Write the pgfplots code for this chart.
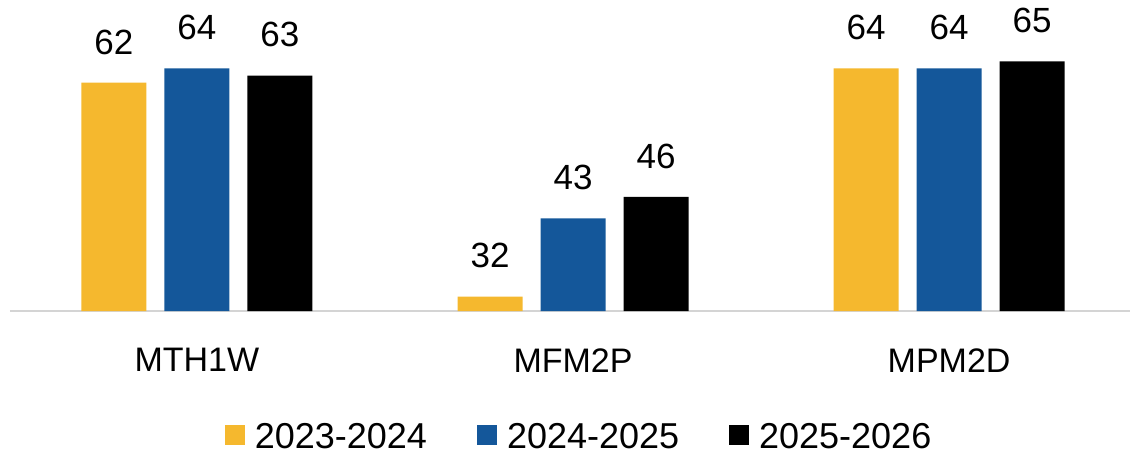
\documentclass[border=0pt]{standalone}
\usepackage{pgfplots}
\pgfplotsset{compat=1.18}
\usepackage{fontspec}
\setmainfont{Liberation Sans}
\definecolor{cyellow}{HTML}{F5B82E}
\definecolor{cblue}{HTML}{14579A}
\definecolor{baseln}{HTML}{D4D4D4}

\begin{document}
\begin{tikzpicture}
\begin{axis}[
  scale only axis, width=560pt, height=155.5pt,
  xmin=-0.497, xmax=2.481, ymin=30, ymax=73.6,
  ybar, bar width=32.5pt,
  axis y line=none, axis x line=bottom,
  x axis line style={-, draw=baseln, line width=1pt},
  xtick={0,1,2}, xticklabels={MTH1W,MFM2P,MPM2D},
  major tick length=0pt,
  /pgf/number format/assume math mode=true,
  xticklabel style={font=\fontsize{17}{20}\selectfont, anchor=north, inner sep=0pt, yshift=-18.5pt},
  nodes near coords,
  nodes near coords style={font=\fontsize{17.5}{20}\selectfont, anchor=south, inner sep=0pt, yshift=14pt, text=black},
  legend columns=3,
  legend style={draw=none, at={(0.509,-0.405)}, anchor=center,
    font=\fontsize{18}{20}\selectfont,
    /tikz/every even column/.append style={column sep=23pt}},
  legend image code/.code={\fill[#1] (0pt,-4pt) rectangle (10pt,6pt); \path (13pt,0pt);},
]
  \coordinate (O) at (rel axis cs:0,0);
  % 2023-2024
  \addplot[fill=cyellow, draw=none, bar shift=-41.5pt] coordinates {(0,62) (1,32) (2,64)};
  \addlegendentry{2023-2024}
  % 2024-2025
  \addplot[fill=cblue, draw=none, bar shift=0pt] coordinates {(0,64) (1,43) (2,64)};
  \addlegendentry{2024-2025}
  % 2025-2026
  \addplot[fill=black, draw=none, bar shift=41.5pt] coordinates {(0,63) (1,46) (2,65)};
  \addlegendentry{2025-2026}
\end{axis}
\pgfresetboundingbox
\path (O) ++(-5pt,-72pt) rectangle ++(565pt,227.5pt);
\end{tikzpicture}
\end{document}
